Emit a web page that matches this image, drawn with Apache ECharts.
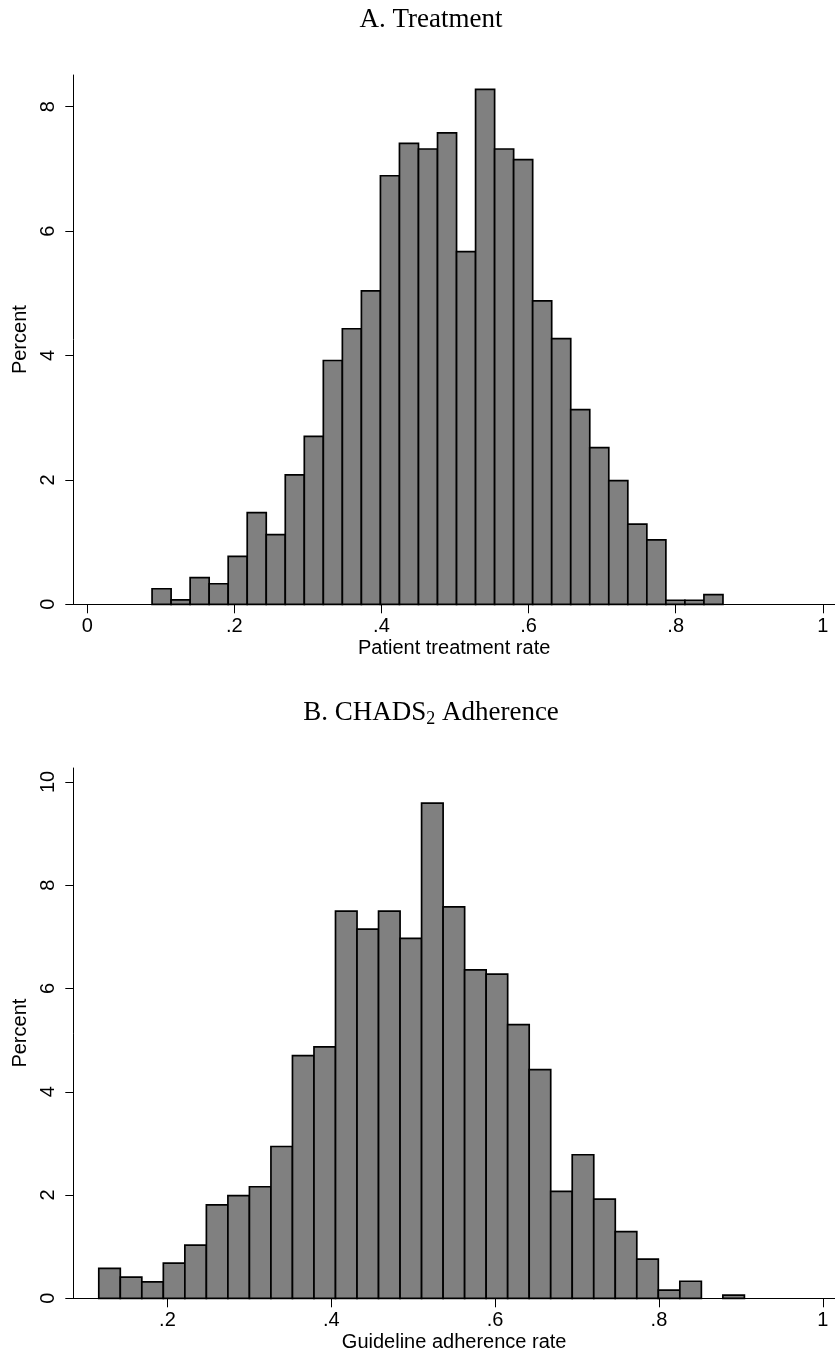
<!DOCTYPE html>
<html>
<head>
<meta charset="utf-8">
<script src="https://cdn.jsdelivr.net/npm/echarts@6/dist/echarts.min.js"></script>
<style>
  html, body { margin: 0; padding: 0; background: #fff; }
  #main { width: 835px; height: 1359px; }
</style>
</head>
<body>
<div id="main"></div>
<script>
// A. Treatment - histogram of patient treatment rate
var treatStart = 0.0882;
var treatWidth = 0.02587;
var treatPct = [0.25, 0.07, 0.43, 0.33, 0.77, 1.475, 1.12, 2.08, 2.70, 3.92,
                4.43, 5.04, 6.89, 7.41, 7.32, 7.58, 5.67, 8.28, 7.32, 7.15,
                4.88, 4.27, 3.13, 2.52, 1.99, 1.29, 1.035, 0.065, 0.065, 0.155];
var treatXTicks = [0, 0.2, 0.4, 0.6, 0.8, 1];
var treatYTicks = [0, 2, 4, 6, 8];

// B. CHADS2 adherence - histogram of guideline adherence rate
var adhStart = 0.1162;
var adhWidth = 0.02627;
var adhPct = [0.58, 0.41, 0.32, 0.68, 1.03, 1.81, 1.99, 2.16, 2.94, 4.70,
              4.87, 7.50, 7.15, 7.50, 6.97, 9.59, 7.58, 6.36, 6.28, 5.30,
              4.43, 2.07, 2.78, 1.92, 1.29, 0.76, 0.16, 0.33, 0, 0.06];
var adhXTicks = [0.2, 0.4, 0.6, 0.8, 1];
var adhYTicks = [0, 2, 4, 6, 8, 10];

function toBins(start, width, pct) {
    var out = [];
    for (var i = 0; i < pct.length; i++) {
        out.push([start + i * width, start + (i + 1) * width, pct[i]]);
    }
    return out;
}

function renderBar(params, api) {
    var v = api.value(2);
    if (!v) return null;
    var p0 = api.coord([api.value(0), v]);
    var p1 = api.coord([api.value(1), 0]);
    return {
        type: 'rect',
        shape: { x: p0[0], y: p0[1], width: p1[0] - p0[0], height: p1[1] - p0[1] },
        style: { fill: '#808080', stroke: '#000', lineWidth: 1.7 }
    };
}

function fmtRate(v) {
    var s = String(+(+v).toFixed(1));
    return s.replace(/^0\./, '.');
}

var sans = 'Liberation Sans';
var serif = 'Liberation Serif';

function xAxisOf(gi, min, max, ticks, name) {
    return {
        type: 'value', gridIndex: gi, min: min, max: max,
        name: name, nameLocation: 'middle', nameGap: 34,
        nameTextStyle: { fontFamily: sans, fontSize: 20, color: '#000' },
        splitLine: { show: false },
        axisLine: { onZero: false, lineStyle: { color: '#000', width: 1 } },
        axisTick: { length: 9, customValues: ticks, lineStyle: { color: '#000', width: 1 } },
        axisLabel: { customValues: ticks, margin: 12, formatter: fmtRate,
                     fontFamily: sans, fontSize: 20, color: '#000' }
    };
}

function yAxisOf(gi, max, ticks) {
    return {
        type: 'value', gridIndex: gi, min: 0, max: max,
        name: 'Percent', nameLocation: 'middle', nameGap: 39,
        nameTextStyle: { fontFamily: sans, fontSize: 20, color: '#000' },
        splitLine: { show: false },
        axisLine: { show: true, onZero: false, lineStyle: { color: '#000', width: 1 } },
        axisTick: { show: true, length: 8, customValues: ticks, lineStyle: { color: '#000', width: 1 } },
        axisLabel: { customValues: ticks, rotate: 90, margin: 15,
                     fontFamily: sans, fontSize: 20, color: '#000' }
    };
}

var chart = echarts.init(document.getElementById('main'), null, { renderer: 'canvas' });

var option = {
    backgroundColor: '#fff',
    animation: false,
    title: [
        {
            text: 'A. Treatment', left: 426, top: 1, textAlign: 'center',
            textStyle: { fontFamily: serif, fontSize: 27, fontWeight: 'normal', color: '#000' }
        },
        {
            text: '{n|B. CHADS}{s|2}{n| Adherence}', left: 426, top: 693, textAlign: 'center',
            textStyle: {
                fontFamily: serif, fontSize: 27, fontWeight: 'normal', color: '#000',
                rich: {
                    n: { fontFamily: serif, fontSize: 27, lineHeight: 30, color: '#000' },
                    s: { fontFamily: serif, fontSize: 18, lineHeight: 18, verticalAlign: 'bottom', color: '#000' }
                }
            }
        }
    ],
    grid: [
        { left: 73.3, top: 75, width: 768, height: 529.3 },
        { left: 73.3, top: 768, width: 768, height: 530.3 }
    ],
    xAxis: [
        xAxisOf(0, -0.01888, 1.0166, treatXTicks, 'Patient treatment rate'),
        xAxisOf(1, 0.0851, 1.0149, adhXTicks, 'Guideline adherence rate')
    ],
    yAxis: [
        yAxisOf(0, 8.51, treatYTicks),
        yAxisOf(1, 10.27, adhYTicks)
    ],
    series: [
        {
            type: 'custom', xAxisIndex: 0, yAxisIndex: 0,
            renderItem: renderBar,
            encode: { x: [0, 1], y: 2 },
            data: toBins(treatStart, treatWidth, treatPct)
        },
        {
            type: 'custom', xAxisIndex: 1, yAxisIndex: 1,
            renderItem: renderBar,
            encode: { x: [0, 1], y: 2 },
            data: toBins(adhStart, adhWidth, adhPct)
        }
    ]
};

chart.setOption(option);
</script>
</body>
</html>
